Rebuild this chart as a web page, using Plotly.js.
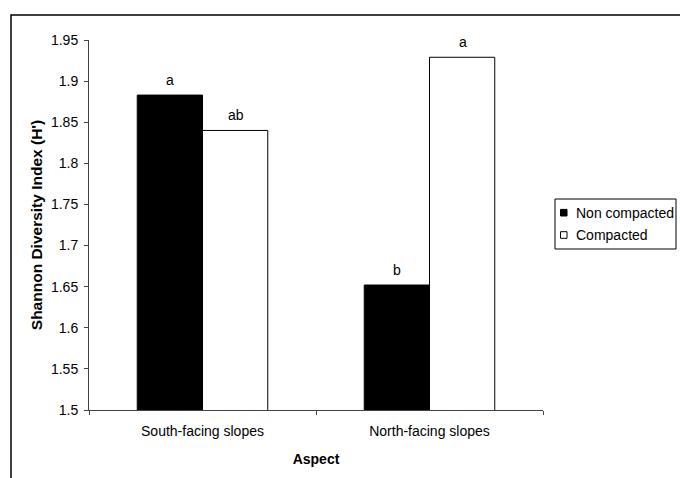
<!DOCTYPE html>
<html>
<head>
<meta charset="utf-8">
<script src="https://cdn.plot.ly/plotly-3.0.1.min.js"></script>
<style>
  html, body { margin: 0; padding: 0; background: #fff; }
  #chart { width: 680px; height: 478px; }
</style>
</head>
<body>
<div id="chart"></div>
<script>
// Shannon diversity by slope aspect and soil compaction
const aspects = ["South-facing slopes", "North-facing slopes"];
const seriesNames = ["Non compacted", "Compacted"];
const nonCompacted = [1.883, 1.652];
const compacted = [1.840, 1.929];
const lettersNonCompacted = ["a", "b"];
const lettersCompacted = ["ab", "a"];
const yTickVals = [1.5, 1.55, 1.6, 1.65, 1.7, 1.75, 1.8, 1.85, 1.9, 1.95];
const yTickText = ["1.5", "1.55", "1.6", "1.65", "1.7", "1.75", "1.8", "1.85", "1.9", "1.95"];

const FONT = "Liberation Sans, Arial, sans-serif";
const fills = ["#000", "#fff"];

const W = 680, H = 478;
const M = { l: 89, r: 137, t: 40, b: 68 };
const PW = W - M.l - M.r, PH = H - M.t - M.b;
// pixel position on the page -> paper fraction
const px = x => (x - M.l) / PW;
const py = y => (H - M.b - y) / PH;

const traces = [nonCompacted, compacted].map((vals, k) => ({
  type: "bar", name: seriesNames[k], x: aspects, y: vals,
  marker: { color: fills[k], line: { color: "#000", width: 1 } },
  showlegend: false, hoverinfo: "skip"
}));

// significance letters above each bar
const annotations = [];
aspects.forEach((a, i) => {
  annotations.push({ x: a, y: nonCompacted[i], text: lettersNonCompacted[i], xref: "x", yref: "y",
    showarrow: false, xshift: -33, yanchor: "bottom", yshift: 5, font: { family: FONT, size: 14, color: "#000" } });
  annotations.push({ x: a, y: compacted[i], text: lettersCompacted[i], xref: "x", yref: "y",
    showarrow: false, xshift: 33, yanchor: "bottom", yshift: 5, font: { family: FONT, size: 14, color: "#000" } });
});

const shapes = [
  // outer frame (left and top edges)
  { type: "path", xref: "paper", yref: "paper",
    path: `M ${px(11)},${py(H + 5)} L ${px(11)},${py(15)} L ${px(W + 5)},${py(15)}`,
    line: { color: "#000", width: 1.5 } },
  // legend box
  { type: "rect", xref: "paper", yref: "paper",
    x0: px(555), x1: px(676), y0: py(249), y1: py(199),
    line: { color: "#000", width: 1 }, fillcolor: "#fff" }
];

// legend keys and labels
const rowY = [212.7, 235];
seriesNames.forEach((name, k) => {
  shapes.push({ type: "rect", xref: "paper", yref: "paper",
    x0: px(560.5), x1: px(567), y0: py(rowY[k] + 3.3), y1: py(rowY[k] - 3.3),
    line: { color: "#000", width: 1 }, fillcolor: fills[k] });
  annotations.push({ xref: "paper", yref: "paper", x: px(574), y: py(rowY[k]),
    xanchor: "left", yanchor: "middle", showarrow: false, text: name,
    font: { family: FONT, size: 14, color: "#000" } });
});

const layout = {
  width: W, height: H,
  margin: { l: M.l, r: M.r, t: M.t, b: M.b, pad: 0, autoexpand: false },
  paper_bgcolor: "#fff", plot_bgcolor: "#fff",
  font: { family: FONT, size: 14, color: "#000" },
  showlegend: false,
  bargap: 0.425, bargroupgap: 0, barmode: "group",
  xaxis: {
    type: "category", showgrid: false, zeroline: false,
    showline: true, linecolor: "#444", linewidth: 1,
    ticks: "outside", tickson: "boundaries", ticklen: 4, tickcolor: "#444",
    ticklabelstandoff: 8,
    title: { text: "<b>Aspect</b>", font: { family: FONT, size: 14 }, standoff: 16 }
  },
  yaxis: {
    range: [1.5, 1.95], showgrid: false, zeroline: false,
    showline: true, linecolor: "#444", linewidth: 1,
    ticks: "outside", ticklen: 4, tickcolor: "#444",
    tickvals: yTickVals, ticktext: yTickText, ticklabelstandoff: 3,
    title: { text: "<b>Shannon Diversity Index (H')</b>", font: { family: FONT, size: 15.5 }, standoff: 4 }
  },
  annotations: annotations,
  shapes: shapes
};

Plotly.newPlot("chart", traces, layout, { displayModeBar: false, staticPlot: true });
</script>
</body>
</html>
